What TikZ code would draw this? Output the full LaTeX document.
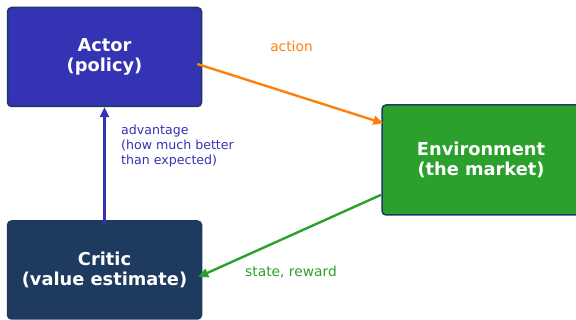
\documentclass[tikz,border=0pt]{standalone}
\usepackage{fontspec}
\setmainfont{DejaVu Sans}
\usetikzlibrary{arrows.meta,calc}
\definecolor{actorblue}{HTML}{3333B3}
\definecolor{criticnavy}{HTML}{1F3A5F}
\definecolor{envgreen}{HTML}{2CA02C}
\definecolor{actionorange}{HTML}{FF7F0E}
\definecolor{edgenavy}{HTML}{1F3A5F}
\tikzset{
  block/.style={draw=edgenavy, line width=1.5pt, rounded corners=4pt,
    text=white, align=center, inner sep=0pt,
    font=\bfseries\fontsize{17.8}{20.8}\selectfont},
  flow/.style={line width=2.4pt, -{Triangle[length=10pt,width=9pt]}},
  edgelabel/.style={font=\fontsize{13.8}{16}\selectfont, inner sep=0pt},
}
\begin{document}
\begin{tikzpicture}[x=1pt,y=-1pt]
\useasboundingbox (0,0) rectangle (576,320);

% the three agents of the loop
\node[block, fill=actorblue, minimum width=194pt, minimum height=99pt] (actor) at (104.5,57) {Actor\\(policy)};
\node[block, fill=criticnavy, minimum width=194pt, minimum height=98pt] (critic) at (104.5,270) {Critic\\(value estimate)};
\node[block, fill=envgreen, minimum width=198pt, minimum height=110pt] (env) at (481,160) {Environment\\(the market)};

% connectors
\coordinate (actOut) at ($(actor.east)+(-5,7)$);
\coordinate (actIn) at ($(env.north west)+(2,19)$);
\coordinate (obsOut) at ($(env.south west)+(0,-21)$);
\coordinate (obsIn) at ($(critic.east)+(-4,7)$);
\coordinate (advOut) at ($(critic.north)+(0,5)$);

\draw[flow, actionorange] (actOut) -- (actIn);
\draw[flow, envgreen] (obsOut) -- (obsIn);
\draw[flow, actorblue] (advOut) -- (actor.south);

% connector labels
\node[edgelabel, text=actionorange] (lblAction) at (291.5,46) {action};
\node[edgelabel, text=envgreen] (lblState) at (291,272) {state, reward};
\node[edgelabel, text=actorblue, anchor=north west, align=left,
      font=\fontsize{12.6}{14.7}\selectfont] (lblAdv) at (121,125) {advantage\\(how much better\\than expected)};
\end{tikzpicture}
\end{document}
